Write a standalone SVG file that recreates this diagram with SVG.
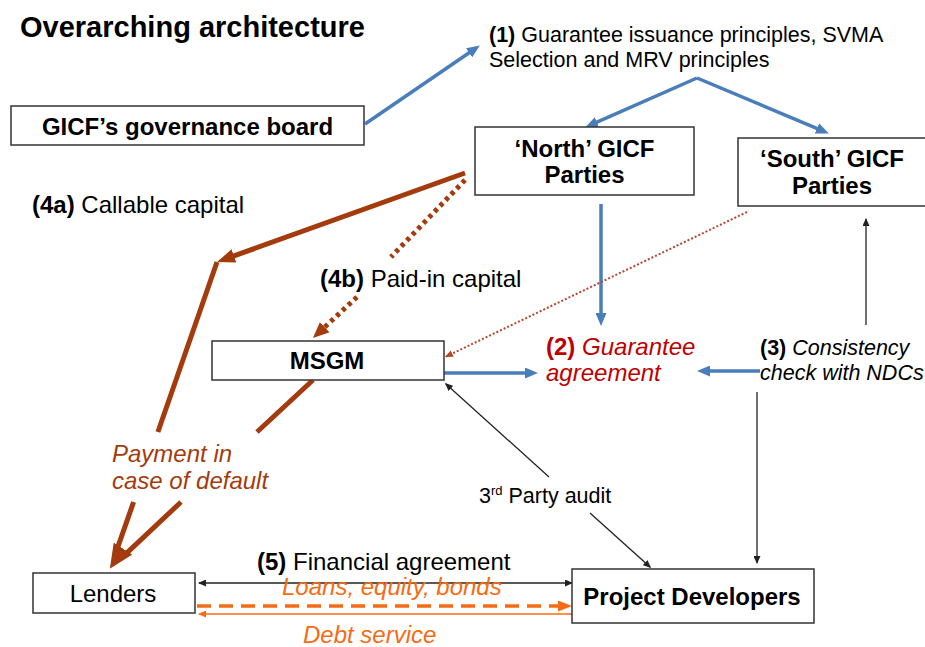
<svg xmlns="http://www.w3.org/2000/svg" width="925" height="647" viewBox="0 0 925 647">
<style>
text{font-family:"Liberation Sans",Arial,sans-serif;fill:#000}
.t24{font-size:24px}
.t21{font-size:21.5px}
.b{font-weight:bold}
.i{font-style:italic}
.box{fill:#fff;stroke:#333;stroke-width:1.5}
.blue{stroke:#4a7ebb;stroke-width:3.5;fill:none}
.brown{stroke:#a33b0d;stroke-width:5;fill:none}
.brownd{stroke:#a33b0d;stroke-width:5;fill:none;stroke-dasharray:4 4}
.redd{stroke:#b5462a;stroke-width:2;fill:none;stroke-dasharray:2 2}
.blk{stroke:#222;stroke-width:1.3;fill:none}
.ord{stroke:#f76b15;stroke-width:3.5;fill:none;stroke-dasharray:14 8}
.ors{stroke:#f76b15;stroke-width:1.5;fill:none}
.cbrown{fill:#a33b0d}
.corange{fill:#f76b15}
.cred{fill:#c00000}
</style>
<defs>
<marker id="mBlue" markerUnits="userSpaceOnUse" markerWidth="13" markerHeight="11" refX="5" refY="5.5" orient="auto"><path d="M0,0 L13,5.5 L0,11 Z" fill="#4a7ebb"/></marker>
<marker id="mBrown" markerUnits="userSpaceOnUse" markerWidth="18" markerHeight="14" refX="8" refY="7" orient="auto"><path d="M0,0 L18,7 L0,14 Z" fill="#a33b0d"/></marker>
<marker id="mBrownBig" markerUnits="userSpaceOnUse" markerWidth="24" markerHeight="22" refX="10" refY="11" orient="auto"><path d="M0,0 L24,11 L0,22 Z" fill="#a33b0d"/></marker>
<marker id="mBrownD" markerUnits="userSpaceOnUse" markerWidth="16" markerHeight="14" refX="6" refY="7" orient="auto"><path d="M0,0 L16,7 L0,14 Z" fill="#a33b0d"/></marker>
<marker id="mRed" markerUnits="userSpaceOnUse" markerWidth="8" markerHeight="7" refX="7" refY="3.5" orient="auto"><path d="M0,0 L8,3.5 L0,7 Z" fill="#b5462a"/></marker>
<marker id="mBlack" markerUnits="userSpaceOnUse" markerWidth="8" markerHeight="7" refX="7" refY="3.5" orient="auto-start-reverse"><path d="M0,0 L8,3.5 L0,7 Z" fill="#222"/></marker>
<marker id="mOrange" markerUnits="userSpaceOnUse" markerWidth="14" markerHeight="11" refX="6" refY="5.5" orient="auto"><path d="M0,0 L14,5.5 L0,11 Z" fill="#f76b15"/></marker>
<marker id="mOrangeS" markerUnits="userSpaceOnUse" markerWidth="8" markerHeight="7" refX="7" refY="3.5" orient="auto"><path d="M0,0 L8,3.5 L0,7 Z" fill="#f76b15"/></marker>
</defs>

<text x="20" y="37" class="b" font-size="29">Overarching architecture</text>

<g id="connectors">
<line class="blue" x1="365" y1="124" x2="473.2" y2="50" marker-end="url(#mBlue)"/>
<line class="blue" x1="697" y1="78" x2="592.4" y2="124.2" marker-end="url(#mBlue)"/>
<line class="blue" x1="697" y1="78" x2="821.5" y2="130.3" marker-end="url(#mBlue)"/>
<line class="blue" x1="601" y1="204" x2="601" y2="318" marker-end="url(#mBlue)"/>
<line class="blue" x1="444" y1="373" x2="530" y2="373" marker-end="url(#mBlue)"/>
<line class="blue" x1="760" y1="371" x2="705" y2="371" marker-end="url(#mBlue)"/>
<line class="brown" x1="465" y1="173" x2="226.4" y2="258.6" marker-end="url(#mBrown)"/>
<line class="brown" x1="217" y1="262" x2="157.9" y2="432"/>
<line class="brown" x1="133.6" y1="502" x2="115.5" y2="553.7"/>
<line class="brown" x1="313" y1="380" x2="257" y2="432"/>
<line class="brown" x1="181" y1="502" x2="123.2" y2="556.4"/>
<line class="brown" x1="122" y1="550" x2="117.5" y2="556.9" marker-end="url(#mBrownBig)"/>
<line class="brownd" x1="465" y1="180" x2="391" y2="257"/>
<line class="brownd" x1="357" y1="297" x2="320.3" y2="331.2" marker-end="url(#mBrownD)"/>
<line class="redd" x1="747" y1="212" x2="445.9" y2="356.6" marker-end="url(#mRed)"/>
<line class="blk" x1="866" y1="325" x2="866" y2="219" marker-end="url(#mBlack)"/>
<line class="blk" x1="757" y1="392" x2="757" y2="563" marker-end="url(#mBlack)"/>
<line class="blk" x1="549" y1="477" x2="445.7" y2="383.7" marker-end="url(#mBlack)"/>
<line class="blk" x1="590" y1="513" x2="650.3" y2="567.3" marker-end="url(#mBlack)"/>
<line class="blk" x1="199" y1="583" x2="572" y2="583" marker-start="url(#mBlack)" marker-end="url(#mBlack)"/>
<line class="ord" x1="197" y1="606" x2="564" y2="606" marker-end="url(#mOrange)"/>
<line class="ors" x1="573" y1="614" x2="199" y2="614" marker-end="url(#mOrangeS)"/>
</g>

<g id="governance">
<rect class="box" x="11" y="106" width="353" height="39"/>
<text x="187.5" y="135" class="t24 b" text-anchor="middle">GICF’s governance board</text>
</g>
<g id="north">
<rect class="box" x="475" y="127" width="219" height="68"/>
<text x="584.5" y="157" class="t24 b" text-anchor="middle">‘North’ GICF</text>
<text x="584.5" y="183" class="t24 b" text-anchor="middle">Parties</text>
</g>
<g id="south">
<rect class="box" x="738" y="138" width="200" height="68"/>
<text x="832" y="167" class="t24 b" text-anchor="middle">‘South’ GICF</text>
<text x="832" y="194" class="t24 b" text-anchor="middle">Parties</text>
</g>
<g id="msgm">
<rect class="box" x="212" y="341" width="232" height="39"/>
<text x="327" y="369" class="t24 b" text-anchor="middle">MSGM</text>
</g>
<g id="lenders">
<rect class="box" x="33" y="573" width="162" height="40"/>
<text x="113" y="602" class="t24" text-anchor="middle">Lenders</text>
</g>
<g id="developers">
<rect class="box" x="572" y="569" width="242" height="54"/>
<text x="692" y="605" class="t24 b" text-anchor="middle">Project Developers</text>
</g>

<g id="labels">
<text x="489" y="42" class="t21"><tspan class="b">(1)</tspan> Guarantee issuance principles, SVMA</text>
<text x="489" y="67" class="t21">Selection and MRV principles</text>
<text x="32" y="213" class="t24"><tspan class="b">(4a)</tspan> Callable capital</text>
<text x="320" y="287" class="t24"><tspan class="b">(4b)</tspan> Paid-in capital</text>
<text x="546" y="355" class="t24 cred"><tspan class="b cred">(2)</tspan> <tspan class="i cred">Guarantee</tspan></text>
<text x="546" y="381" class="t24 i cred">agreement</text>
<text x="760" y="355" class="t21"><tspan class="b">(3)</tspan> <tspan class="i">Consistency</tspan></text>
<text x="760" y="380" class="t21 i">check with NDCs</text>
<text x="112" y="462" class="t24 i cbrown">Payment in</text>
<text x="112" y="489" class="t24 i cbrown">case of default</text>
<text x="479" y="503" class="t21">3<tspan font-size="13" dy="-8">rd</tspan><tspan dy="8"> Party audit</tspan></text>
<text x="257" y="570" class="t24"><tspan class="b">(5)</tspan> Financial agreement</text>
<text x="282" y="595" class="t24 i corange">Loans, equity, bonds</text>
<text x="303" y="643" class="t24 i corange">Debt service</text>
</g>
</svg>
